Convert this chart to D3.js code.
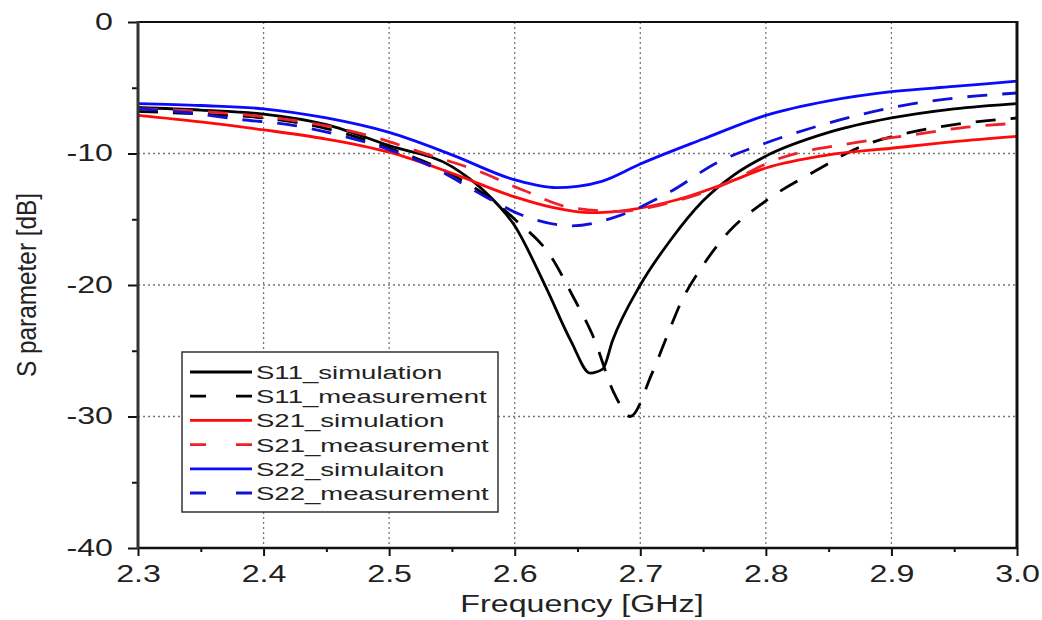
<!DOCTYPE html>
<html>
<head>
<meta charset="utf-8">
<script src="https://cdn.jsdelivr.net/npm/d3@7"></script>
<style>
  html, body { margin: 0; padding: 0; background: #fff; }
  svg { display: block; }
  text { font-family: "Liberation Sans", Arial, sans-serif; fill: #222; }
</style>
</head>
<body>
<svg id="chart" width="1042" height="620"></svg>
<script>
// ---------- data ----------
const xTickValues = [2.3, 2.4, 2.5, 2.6, 2.7, 2.8, 2.9, 3.0];
const xTickLabels = ["2.3", "2.4", "2.5", "2.6", "2.7", "2.8", "2.9", "3.0"];
const yTickValues = [0, -10, -20, -30, -40];
const yTickLabels = ["0", "-10", "-20", "-30", "-40"];

const seriesNames = ["S11_simulation", "S11_measurement", "S21_simulation",
                     "S21_measurement", "S22_simulaiton", "S22_measurement"];

const s11SimFreq = [2.30, 2.35, 2.40, 2.45, 2.50, 2.55, 2.575, 2.60, 2.625, 2.645, 2.66, 2.67, 2.678, 2.70, 2.724, 2.75, 2.775, 2.80, 2.85, 2.90, 2.95, 3.00];
const s11SimVal  = [-6.5, -6.7, -7.0, -7.8, -9.4, -11.0, -12.8, -15.5, -20.2, -24.3, -26.7, -26.4, -24.2, -20.0, -16.6, -13.6, -11.6, -10.2, -8.4, -7.3, -6.6, -6.2];

const s11MeasFreq = [2.30, 2.35, 2.40, 2.45, 2.50, 2.55, 2.58, 2.60, 2.63, 2.646, 2.662, 2.68, 2.692, 2.709, 2.72, 2.733, 2.75, 2.77, 2.80, 2.84, 2.875, 2.91, 2.95, 3.00];
const s11MeasVal  = [-6.8, -7.0, -7.3, -8.1, -9.6, -11.6, -13.4, -15.0, -18.0, -20.8, -23.8, -28.4, -30.0, -26.8, -24.2, -21.2, -18.5, -16.0, -13.6, -11.3, -9.5, -8.5, -7.8, -7.3];

const s21SimFreq = [2.30, 2.35, 2.40, 2.45, 2.50, 2.55, 2.60, 2.63, 2.66, 2.69, 2.73, 2.77, 2.80, 2.85, 2.90, 2.95, 3.00];
const s21SimVal  = [-7.1, -7.6, -8.2, -8.9, -9.9, -11.5, -13.3, -14.1, -14.5, -14.3, -13.5, -12.2, -11.1, -10.1, -9.6, -9.1, -8.7];

const s21MeasFreq = [2.30, 2.35, 2.40, 2.45, 2.49, 2.525, 2.57, 2.607, 2.644, 2.683, 2.721, 2.763, 2.81, 2.87, 2.915, 2.96, 3.00];
const s21MeasVal  = [-6.6, -6.8, -7.2, -7.9, -8.8, -9.9, -11.3, -12.8, -14.1, -14.4, -13.8, -12.5, -10.4, -9.2, -8.6, -8.0, -7.7];

const s22SimFreq = [2.30, 2.35, 2.40, 2.45, 2.50, 2.55, 2.60, 2.633, 2.65, 2.67, 2.70, 2.75, 2.80, 2.85, 2.90, 2.95, 3.00];
const s22SimVal  = [-6.2, -6.35, -6.6, -7.3, -8.4, -10.1, -12.0, -12.6, -12.5, -12.1, -10.8, -8.9, -7.1, -6.0, -5.3, -4.9, -4.5];

const s22MeasFreq = [2.30, 2.34, 2.38, 2.42, 2.46, 2.50, 2.534, 2.577, 2.606, 2.646, 2.684, 2.724, 2.761, 2.80, 2.835, 2.873, 2.912, 2.949, 3.00];
const s22MeasVal  = [-6.6, -6.9, -7.4, -7.8, -8.6, -9.7, -11.0, -13.3, -14.7, -15.5, -14.7, -12.9, -10.7, -9.2, -8.1, -7.1, -6.3, -5.8, -5.4];

// ---------- layout ----------
const svg = d3.select("#chart");
const L = 138, R = 1017, T = 22, B = 548;
const SX = 1.4; // horizontal text stretch seen in the reference

const x = d3.scaleLinear().domain([2.3, 3.0]).range([L, R]);
const y = d3.scaleLinear().domain([-40, 0]).range([B, T]);

const series = [
  { name: seriesNames[0], f: s11SimFreq,  v: s11SimVal,  color: "#000000", dash: null },
  { name: seriesNames[1], f: s11MeasFreq, v: s11MeasVal, color: "#000000", dash: "20,15" },
  { name: seriesNames[2], f: s21SimFreq,  v: s21SimVal,  color: "#ff0a0a", dash: null },
  { name: seriesNames[3], f: s21MeasFreq, v: s21MeasVal, color: "#f0202a", dash: "20,15" },
  { name: seriesNames[4], f: s22SimFreq,  v: s22SimVal,  color: "#0a0aff", dash: null },
  { name: seriesNames[5], f: s22MeasFreq, v: s22MeasVal, color: "#1010d8", dash: "20,15" }
];

// grid
const grid = svg.append("g");
xTickValues.slice(1, -1).forEach(t => {
  grid.append("line").attr("x1", x(t)).attr("x2", x(t)).attr("y1", T).attr("y2", B)
    .attr("stroke", "#777").attr("stroke-width", 1.3).attr("stroke-dasharray", "2,3");
});
yTickValues.slice(1, -1).forEach(t => {
  grid.append("line").attr("x1", L).attr("x2", R).attr("y1", y(t)).attr("y2", y(t))
    .attr("stroke", "#777").attr("stroke-width", 1.3).attr("stroke-dasharray", "2,3");
});

// clip
svg.append("clipPath").attr("id", "clip").append("rect")
  .attr("x", L).attr("y", T).attr("width", R - L).attr("height", B - T);

const line = d3.line().x(d => x(d[0])).y(d => y(d[1])).curve(d3.curveMonotoneX);
const plot = svg.append("g").attr("clip-path", "url(#clip)");
series.forEach(s => {
  const pts = s.f.map((f, i) => [f, s.v[i]]);
  plot.append("path").datum(pts).attr("d", line)
    .attr("fill", "none").attr("stroke", s.color).attr("stroke-width", 2.8)
    .attr("stroke-dasharray", s.dash).attr("stroke-linejoin", "round");
});

// axes
const xAxis = d3.axisBottom(x).tickValues(xTickValues)
  .tickFormat((d, i) => xTickLabels[i]).tickSize(8).tickPadding(10);
const gx = svg.append("g").attr("transform", `translate(0,${B})`).call(xAxis);
gx.select(".domain").remove();
gx.selectAll(".tick line").attr("stroke", "#111").attr("stroke-width", 2);
gx.selectAll(".tick text").attr("font-size", 23).attr("fill", "#222")
  .attr("transform", `scale(${SX},1)`);

const xMinor = d3.axisBottom(x).tickValues([2.35, 2.45, 2.55, 2.65, 2.75, 2.85, 2.95])
  .tickSize(4).tickFormat("");
const gxm = svg.append("g").attr("transform", `translate(0,${B})`).call(xMinor);
gxm.select(".domain").remove();
gxm.selectAll(".tick line").attr("stroke", "#111").attr("stroke-width", 2);

const yAxis = d3.axisLeft(y).tickValues(yTickValues)
  .tickFormat((d, i) => yTickLabels[i]).tickSize(10).tickPadding(8);
const gy = svg.append("g").attr("transform", `translate(${L},0)`).call(yAxis);
gy.select(".domain").remove();
gy.selectAll(".tick line").attr("stroke", "#111").attr("stroke-width", 2);
gy.selectAll(".tick text").attr("font-size", 23).attr("fill", "#222")
  .attr("x", -25 / SX).attr("transform", `scale(${SX},1)`);

const yMinor = d3.axisLeft(y).tickValues([-5, -15, -25, -35]).tickSize(6).tickFormat("");
const gym = svg.append("g").attr("transform", `translate(${L},0)`).call(yMinor);
gym.select(".domain").remove();
gym.selectAll(".tick line").attr("stroke", "#111").attr("stroke-width", 2);

// frame
svg.append("line").attr("x1", L - 1).attr("x2", R + 1).attr("y1", T).attr("y2", T)
  .attr("stroke", "#111").attr("stroke-width", 2);
svg.append("line").attr("x1", L - 1).attr("x2", R + 1).attr("y1", B).attr("y2", B)
  .attr("stroke", "#111").attr("stroke-width", 2.4);
svg.append("line").attr("x1", L).attr("x2", L).attr("y1", T - 1).attr("y2", B + 1)
  .attr("stroke", "#333").attr("stroke-width", 3);
svg.append("line").attr("x1", R).attr("x2", R).attr("y1", T - 1).attr("y2", B + 1)
  .attr("stroke", "#111").attr("stroke-width", 3);

// titles
svg.append("text").attr("text-anchor", "middle").attr("font-size", 23)
  .attr("transform", `translate(582,612) scale(${SX},1)`)
  .text("Frequency [GHz]");
svg.append("text").attr("text-anchor", "middle").attr("font-size", 23)
  .attr("transform", `translate(36,285) scale(${SX * 0.85},1.06) rotate(-90)`)
  .text("S parameter [dB]");

// legend
const lg = svg.append("g");
lg.append("rect").attr("x", 182).attr("y", 352).attr("width", 316).attr("height", 160)
  .attr("fill", "#fff").attr("stroke", "#333").attr("stroke-width", 1.5);
series.forEach((s, i) => {
  const cy = 372 + i * 24.2;
  lg.append("line").attr("x1", 190).attr("x2", 252).attr("y1", cy).attr("y2", cy)
    .attr("stroke", s.color).attr("stroke-width", 2.8)
    .attr("stroke-dasharray", s.dash ? "16,30" : null);
  lg.append("text").attr("font-size", 19)
    .attr("transform", `translate(256,${cy + 7}) scale(1.45,1)`)
    .text(s.name);
});
</script>
</body>
</html>
